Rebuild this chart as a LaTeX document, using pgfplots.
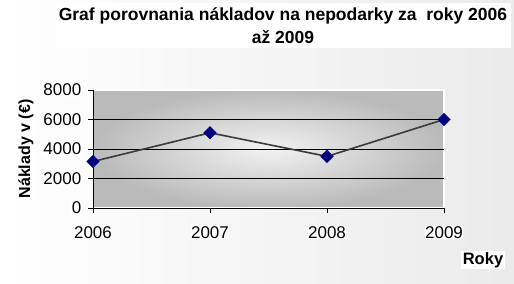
\documentclass[border=0pt]{standalone}
\usepackage{pgfplots}
\pgfplotsset{compat=1.18}
\usepackage{fontspec}
\setmainfont{Liberation Sans}
\definecolor{navym}{HTML}{000080}
\definecolor{lineg}{HTML}{3A3A3A}
\begin{document}
\fontsize{16bp}{19bp}\selectfont
\begin{tikzpicture}[x=1bp,y=1bp]
\shade[left color=white, right color=black!8] (0,0) rectangle (514,283);
\useasboundingbox (0,0) rectangle (514,283);
\fill[white] (55,235) rectangle (511,280);
\node[font=\fontsize{17.5bp}{19bp}\selectfont\bfseries] at (283,267) {Graf porovnania nákladov na nepodarky za\ \ roky 2006};
\node[font=\fontsize{17.5bp}{19bp}\selectfont\bfseries] at (283,246) {až 2009};
\node[font=\fontsize{16bp}{19bp}\selectfont\bfseries, fill=white, inner sep=1.5bp, rotate=90] at (26,134) {Náklady v (€)};
\node[font=\fontsize{16.5bp}{19bp}\selectfont\bfseries, fill=white, inner sep=1.5bp] at (483,23) {Roky};
\begin{axis}[
  at={(93bp,75bp)}, anchor=south west,
  scale only axis, width=351bp, height=118bp,
  xmin=2006, xmax=2009, ymin=0, ymax=8000,
  axis x line*=bottom, axis y line*=left,
  axis line style={black, line width=0.9bp, -},
  xtick={2006,2007,2008,2009},
  ytick={0,2000,4000,6000,8000},
  extra y ticks={2000,4000,6000},
  extra y tick labels={},
  extra y tick style={grid=major, major tick length=0pt},
  major grid style={black, line width=0.8bp},
  tick align=outside, major tick length=5bp,
  tick style={black, line width=0.8bp},
  /pgf/number format/assume math mode=true,
  /pgf/number format/1000 sep={},
  tick label style={font=\fontsize{17bp}{19bp}\selectfont, fill=white, inner sep=0.5bp},
  yticklabel style={xshift=-6bp},
  xticklabel style={yshift=-13bp},
  axis background/.style={shading=radial, inner color=black!5, outer color=black!27, draw=white, line width=2bp},
  clip=false,
]
\addplot[lineg, line width=1.6bp, mark=square*, mark size=3.9bp, mark options={navym, fill=navym, rotate=45, solid}]
  coordinates {(2006,3150) (2007,5100) (2008,3500) (2009,6000)};
\end{axis}
\end{tikzpicture}
\end{document}
